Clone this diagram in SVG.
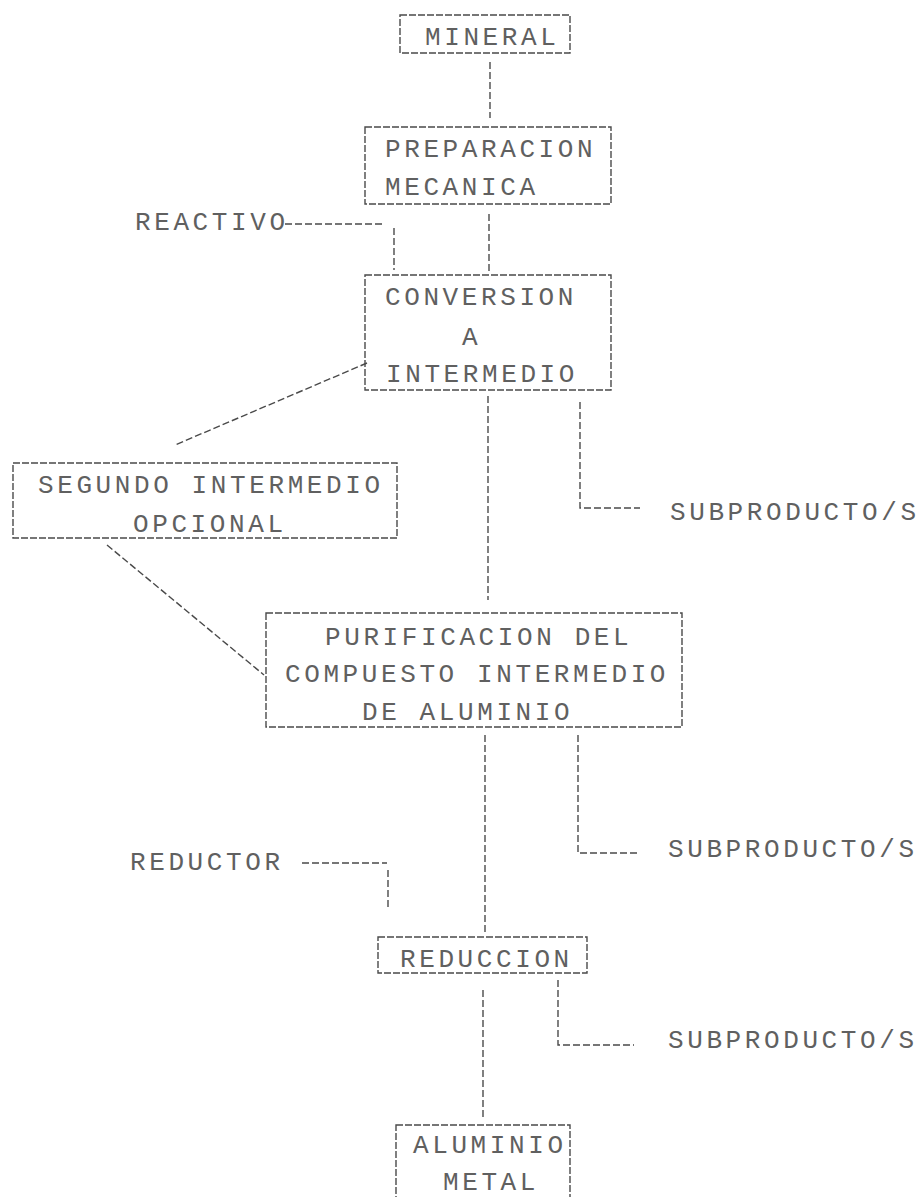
<svg xmlns="http://www.w3.org/2000/svg" width="920" height="1197" viewBox="0 0 920 1197">
<style>
text{font-family:"Liberation Mono","DejaVu Sans Mono",monospace;font-size:26px;letter-spacing:3.6px;fill:#606060}
.box{fill:none;stroke:#4a4a4a;stroke-width:1.4;stroke-dasharray:7 2}
.ln{fill:none;stroke:#4a4a4a;stroke-width:1.4;stroke-dasharray:7 3}
</style>
<rect width="920" height="1197" fill="#fff"/>
<g id="connectors">
<path class="ln" d="M490 62V118"/>
<path class="ln" d="M489 214V271"/>
<path class="ln" d="M285 224H382M394 228V270"/>
<path class="ln" d="M367 363L175 445"/>
<path class="ln" d="M488 396V600"/>
<path class="ln" d="M580 402V508H640"/>
<path class="ln" d="M107 545L264 675"/>
<path class="ln" d="M485 735V935"/>
<path class="ln" d="M578 735V853H637"/>
<path class="ln" d="M302 863H387M388 870V908"/>
<path class="ln" d="M483 990V1120"/>
<path class="ln" d="M558 980V1045H634"/>
</g>
<g id="mineral">
<rect class="box" x="400" y="15" width="170" height="38"/>
<text x="425" y="45">MINERAL</text>
</g>
<g id="preparacion">
<rect class="box" x="365" y="127" width="246" height="77"/>
<text x="385" y="157">PREPARACION</text>
<text x="385" y="195">MECANICA</text>
</g>
<g id="reactivo">
<text x="135" y="230">REACTIVO</text>
</g>
<g id="conversion">
<rect class="box" x="365" y="275" width="246" height="115"/>
<text x="385" y="305">CONVERSION</text>
<text x="462" y="345">A</text>
<text x="386" y="382">INTERMEDIO</text>
</g>
<g id="segundo">
<rect class="box" x="13" y="463" width="384" height="75"/>
<text x="38" y="493">SEGUNDO INTERMEDIO</text>
<text x="133" y="532">OPCIONAL</text>
</g>
<g id="subproducto1">
<text x="670" y="520">SUBPRODUCTO/S</text>
</g>
<g id="purificacion">
<rect class="box" x="266" y="613" width="416" height="114"/>
<text x="325" y="645">PURIFICACION DEL</text>
<text x="285" y="682">COMPUESTO INTERMEDIO</text>
<text x="362" y="720">DE ALUMINIO</text>
</g>
<g id="subproducto2">
<text x="668" y="857">SUBPRODUCTO/S</text>
</g>
<g id="reductor">
<text x="130" y="870">REDUCTOR</text>
</g>
<g id="reduccion">
<rect class="box" x="378" y="937" width="209" height="36"/>
<text x="400" y="967">REDUCCION</text>
</g>
<g id="subproducto3">
<text x="668" y="1048">SUBPRODUCTO/S</text>
</g>
<g id="aluminio">
<rect class="box" x="396" y="1125" width="174" height="90"/>
<text x="413" y="1153">ALUMINIO</text>
<text x="443" y="1190">METAL</text>
</g>
</svg>
